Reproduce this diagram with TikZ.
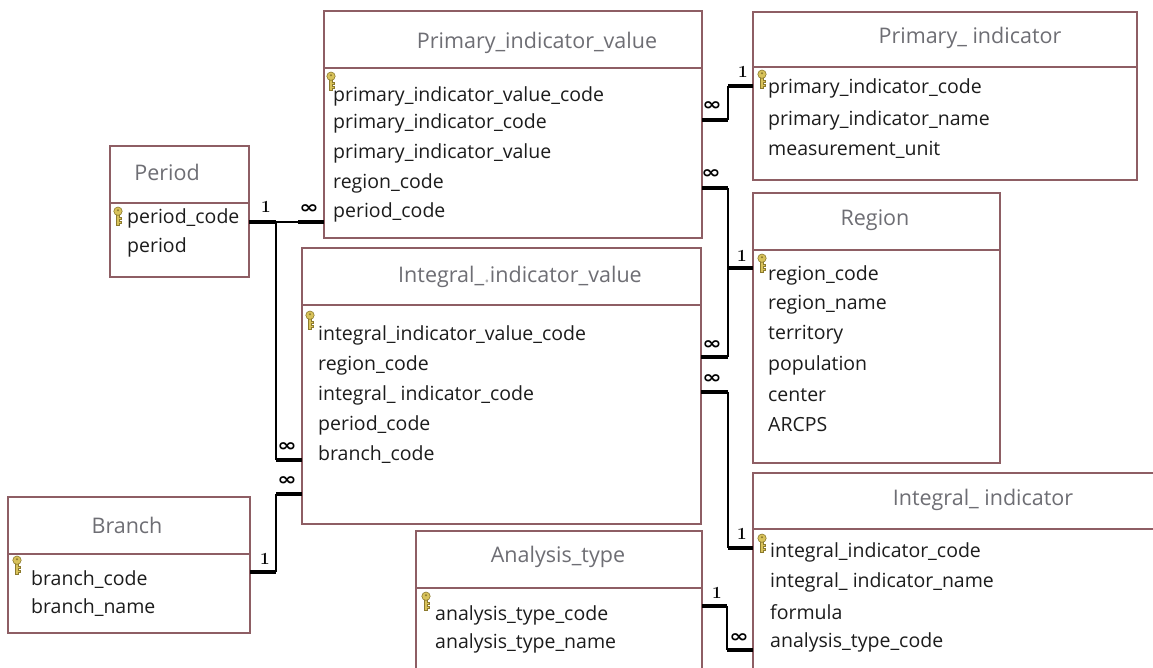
\documentclass[tikz,border=0pt]{standalone}
\usepackage{fontspec}
\usepackage{graphicx}
\newfontfamily\uifont{Open Sans}
\newfontfamily\symfont{DejaVu Sans}
\usetikzlibrary{calc}

\definecolor{boxline}{HTML}{8E5E64}
\definecolor{titlegray}{HTML}{6E6E74}
\definecolor{rowtext}{HTML}{1C1C1C}
\definecolor{keyfill}{HTML}{D8C25A}
\definecolor{keyedge}{HTML}{8C7A2E}

\tikzset{
  table/.style={draw=boxline, line width=1.2pt, fill=white, anchor=north west, inner sep=0pt, outer sep=0pt},
  divider/.style={draw=boxline, line width=1.2pt},
  ttl/.style={font=\uifont\fontsize{21.5}{24}\selectfont, text=titlegray, inner sep=0pt},
  fld/.style={font=\uifont\fontsize{19.5}{22}\selectfont, text=rowtext, anchor=west, inner sep=0pt},
  link/.style={line width=1.4pt, black},
  endseg/.style={line width=4.2pt, black},
  one/.style={font=\bfseries\fontsize{17}{17}\selectfont, inner sep=0pt},
  many/.style={font=\symfont\bfseries\fontsize{16}{16}\selectfont, inner sep=0pt},
  keyicon/.pic={
    \path[fill=keyfill, draw=keyedge, line width=0.6pt]
      (-1.6,6.5) -- (-1.6,18) -- (1.6,18) -- (1.6,16.4) -- (3.6,16.4) -- (3.6,14.2)
      -- (1.6,14.2) -- (1.6,12.6) -- (3,12.6) -- (3,10.6) -- (1.6,10.6) -- (1.6,6.5) -- cycle;
    \path[fill=keyfill, draw=keyedge, line width=0.6pt] (0,4.2) circle (4.2);
    \fill[keyedge] (0,3.2) circle (1.1);
  }
}
\newcommand{\manymark}{\scalebox{1.45}[1.1]{∞}}

\begin{document}
\begin{tikzpicture}[x=1pt, y=-1pt]
\useasboundingbox (0,0) rectangle (1153,667);
\clip (0,0) rectangle (1153,667);
\fill[white] (0,0) rectangle (1153,667);

% ---------- Period ----------
\node[table, minimum width=139pt, minimum height=131pt] (period) at (110,146) {};
\draw[divider] ([yshift=-57pt]period.north west) -- ([yshift=-57pt]period.north east);
\node[ttl] (periodT) at (167,172) {Period};
\node[fld] (period1) at (127,218) {period\_code};
\node[fld] (period2) at (127,247) {period};
\pic at (118,207) {keyicon};

% ---------- Branch ----------
\node[table, minimum width=242pt, minimum height=136pt] (branch) at (8,497) {};
\draw[divider] ([yshift=-57pt]branch.north west) -- ([yshift=-57pt]branch.north east);
\node[ttl] (branchT) at (127,525) {Branch};
\node[fld] (branch1) at (31,580) {branch\_code};
\node[fld] (branch2) at (31,608) {branch\_name};
\pic at (17,556) {keyicon};

% ---------- Primary_indicator_value ----------
\node[table, minimum width=378pt, minimum height=227pt] (piv) at (324,11) {};
\draw[divider] ([yshift=-57pt]piv.north west) -- ([yshift=-57pt]piv.north east);
\node[ttl] (pivT) at (537,43) {Primary\_indicator\_value};
\node[fld] (piv1) at (333,96) {primary\_indicator\_value\_code};
\node[fld] (piv2) at (333,123) {primary\_indicator\_code};
\node[fld] (piv3) at (333,153) {primary\_indicator\_value};
\node[fld] (piv4) at (333,183) {region\_code};
\node[fld] (piv5) at (333,212) {period\_code};
\pic at (331,72) {keyicon};

% ---------- Primary_indicator ----------
\node[table, minimum width=384pt, minimum height=168pt] (pi) at (753,12) {};
\draw[divider] ([yshift=-55pt]pi.north west) -- ([yshift=-55pt]pi.north east);
\node[ttl] (piT) at (970,38) {Primary\_ indicator};
\node[fld] (pi1) at (768,88) {primary\_indicator\_code};
\node[fld] (pi2) at (768,120) {primary\_indicator\_name};
\node[fld] (pi3) at (768,150) {measurement\_unit};
\pic at (762,70) {keyicon};

% ---------- Region ----------
\node[table, minimum width=247pt, minimum height=270pt] (region) at (753,193) {};
\draw[divider] ([yshift=-57pt]region.north west) -- ([yshift=-57pt]region.north east);
\node[ttl] (regionT) at (875,220) {Region};
\node[fld] (region1) at (768,275) {region\_code};
\node[fld] (region2) at (768,305) {region\_name};
\node[fld] (region3) at (768,335) {territory};
\node[fld] (region4) at (768,365) {population};
\node[fld] (region5) at (768,395) {center};
\node[fld] (region6) at (768,425) {ARCPS};
\pic at (762,254) {keyicon};

% ---------- Integral_indicator_value ----------
\node[table, minimum width=399pt, minimum height=276pt] (iiv) at (302,248) {};
\draw[divider] ([yshift=-57pt]iiv.north west) -- ([yshift=-57pt]iiv.north east);
\node[ttl] (iivT) at (520,277) {Integral\_{\color{titlegray!55}.}indicator\_value};
\node[fld] (iiv1) at (318,335) {integral\_indicator\_value\_code};
\node[fld] (iiv2) at (318,365) {region\_code};
\node[fld] (iiv3) at (318,395) {integral\_ indicator\_code};
\node[fld] (iiv4) at (318,425) {period\_code};
\node[fld] (iiv5) at (318,455) {branch\_code};
\pic at (310,311) {keyicon};

% ---------- Integral_indicator ----------
\node[table, minimum width=420pt, minimum height=220pt] (ii) at (753,473) {};
\draw[divider] ([yshift=-56pt]ii.north west) -- ([yshift=-56pt]ii.north east);
\node[ttl] (iiT) at (983,500) {Integral\_ indicator};
\node[fld] (ii1) at (770,552) {integral\_indicator\_code};
\node[fld] (ii2) at (770,582) {integral\_ indicator\_name};
\node[fld] (ii3) at (770,612) {formula};
\node[fld] (ii4) at (770,642) {analysis\_type\_code};
\pic at (762,534) {keyicon};

% ---------- Analysis_type ----------
\node[table, minimum width=286pt, minimum height=160pt] (at) at (416,531) {};
\draw[divider] ([yshift=-57pt]at.north west) -- ([yshift=-57pt]at.north east);
\node[ttl] (atT) at (558,557) {Analysis\_type};
\node[fld] (at1) at (435,615) {analysis\_type\_code};
\node[fld] (at2) at (435,643) {analysis\_type\_name};
\pic at (426,592) {keyicon};

% ---------- relationship end points ----------
% Period -> Primary_indicator_value / Integral_indicator_value
\coordinate (pA) at (period.east |- 0,222);
\coordinate (pB) at (276,222);
\coordinate (pC) at (298,222);
\coordinate (pD) at (piv.west |- 0,222);
\coordinate (pE) at (276,460);
\coordinate (pF) at (iiv.west |- 0,460);
% Branch -> Integral_indicator_value
\coordinate (bA) at (branch.east |- 0,572);
\coordinate (bB) at (276,572);
\coordinate (bC) at (276,494);
\coordinate (bD) at (iiv.west |- 0,494);
% Primary_indicator_value -> Primary_indicator
\coordinate (qA) at (piv.east |- 0,120);
\coordinate (qB) at (728,120);
\coordinate (qC) at (728,86);
\coordinate (qD) at (pi.west |- 0,86);
% Primary_indicator_value / Integral_indicator_value -> Region
\coordinate (rA) at (piv.east |- 0,188);
\coordinate (rB) at (728,188);
\coordinate (rC) at (728,268);
\coordinate (rD) at (region.west |- 0,268);
\coordinate (rE) at (iiv.east |- 0,357);
\coordinate (rF) at (728,357);
% Integral_indicator_value -> Integral_indicator
\coordinate (sA) at (iiv.east |- 0,392);
\coordinate (sB) at (728,392);
\coordinate (sC) at (728,548);
\coordinate (sD) at (ii.west |- 0,548);
% Analysis_type -> Integral_indicator
\coordinate (tA) at (at.east |- 0,606);
\coordinate (tB) at (727,606);
\coordinate (tC) at (727,650);
\coordinate (tD) at (ii.west |- 0,650);

% thin runs
\draw[link] (pB) -- (pC);
\draw[link] (pB) -- (pE);
\draw[link] (bB) -- (bC);
\draw[link] (qB) -- (qC);
\draw[link] (rB) -- (rC);
\draw[link] (rF) -- (rC);
\draw[link] (sB) -- (sC);
\draw[link] (tB) -- (tC);

% heavy segments at the table edges
\draw[endseg] (pA) -- (pB);
\draw[endseg] (pC) -- (pD);
\draw[endseg] (pE) -- (pF);
\draw[endseg] (bA) -- (bB);
\draw[endseg] (bC) -- (bD);
\draw[endseg] (qA) -- (qB);
\draw[endseg] (qC) -- (qD);
\draw[endseg] (rA) -- (rB);
\draw[endseg] (rC) -- (rD);
\draw[endseg] (rE) -- (rF);
\draw[endseg] (sA) -- (sB);
\draw[endseg] (sC) -- (sD);
\draw[endseg] (tA) -- (tB);
\draw[endseg] (tC) -- (tD);

% cardinality marks
\node[one]  (m1) at (266,207) {1};
\node[many] (m2) at (309,209) {\manymark};
\node[many] (m3) at (287,447) {\manymark};
\node[one]  (m4) at (265,559) {1};
\node[many] (m5) at (287,481) {\manymark};
\node[many] (m6) at (712,106) {\manymark};
\node[one]  (m7) at (743,72) {1};
\node[many] (m8) at (711,174) {\manymark};
\node[one]  (m9) at (742,256) {1};
\node[many] (m10) at (712,345) {\manymark};
\node[many] (m11) at (712,379) {\manymark};
\node[one]  (m12) at (742,534) {1};
\node[one]  (m13) at (717,593) {1};
\node[many] (m14) at (739,638) {\manymark};
\end{tikzpicture}
\end{document}
